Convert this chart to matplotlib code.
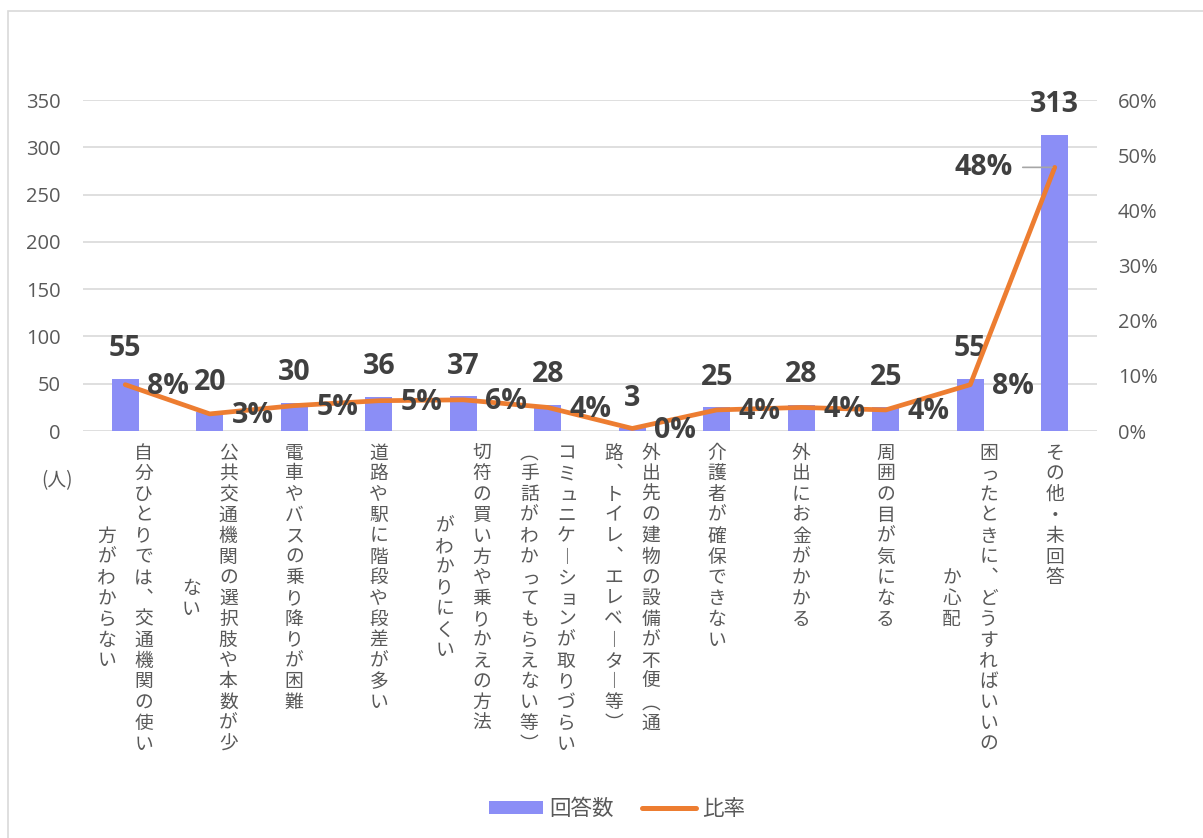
import matplotlib
matplotlib.use("Agg")
import matplotlib.pyplot as plt
from matplotlib.patches import Patch, Rectangle
from matplotlib.lines import Line2D
from matplotlib.ticker import PercentFormatter

# ---- data ----
categories = [
    ["自分ひとりでは、交通機関の使い", "方がわからない"],
    ["公共交通機関の選択肢や本数が少", "ない"],
    ["電車やバスの乗り降りが困難"],
    ["道路や駅に階段や段差が多い"],
    ["切符の買い方や乗りかえの方法", "がわかりにくい"],
    ["コミュニケーションが取りづらい", "（手話がわかってもらえない等）"],
    ["外出先の建物の設備が不便（通", "路、トイレ、エレベーター等）"],
    ["介護者が確保できない"],
    ["外出にお金がかかる"],
    ["周囲の目が気になる"],
    ["困ったときに、どうすればいいの", "か心配"],
    ["その他・未回答"],
]
counts = [55, 20, 30, 36, 37, 28, 3, 25, 28, 25, 55, 313]
ratios = [0.084, 0.031, 0.046, 0.0549, 0.0565, 0.0427, 0.0046, 0.0382,
          0.0427, 0.0382, 0.084, 0.4779]
count_ticks = [0, 50, 100, 150, 200, 250, 300, 350]
ratio_ticks = [0, 0.1, 0.2, 0.3, 0.4, 0.5, 0.6]
series_names = ["回答数", "比率"]
unit_label = "(人)"

# ---- style ----
BAR = "#8B8EF6"
LINE = "#ED7D31"
GRID = "#D9D9D9"
TICK = "#595959"
LABEL = "#404040"
CJK = ["Noto Sans CJK JP", "DejaVu Sans"]
NUM = ["Open Sans", "Noto Sans CJK JP", "DejaVu Sans"]
plt.rcParams["font.family"] = NUM

W, H, DPI = 1203, 838, 100
PX = 72.0 / DPI  # points per pixel

fig = plt.figure(figsize=(W / DPI, H / DPI), dpi=DPI)
fig.patch.set_facecolor("white")

# chart frame
fig.add_artist(Rectangle((8 / W, -0.01), 1.02, 1 - 11 / H + 0.01,
                         transform=fig.transFigure, fill=False,
                         edgecolor="#D9D9D9", linewidth=1.2))

left, right, top, bottom = 83, 1097, 100, 431
ax = fig.add_axes([left / W, 1 - bottom / H, (right - left) / W, (bottom - top) / H])
ax2 = ax.twinx()

x = list(range(len(counts)))
ax.bar(x, counts, width=0.32, color=BAR, zorder=2)
ax.set_xlim(-0.5, len(counts) - 0.5)
ax.set_ylim(count_ticks[0], count_ticks[-1])
ax.set_yticks(count_ticks)
ax.yaxis.grid(True, color=GRID, linewidth=1.2)
ax.set_axisbelow(True)
ax.set_xticks([])

ax2.plot(x, ratios, color=LINE, linewidth=3.4, solid_joinstyle="round",
         solid_capstyle="round", zorder=3)
ax2.set_ylim(ratio_ticks[0], ratio_ticks[-1])
ax2.set_yticks(ratio_ticks)
ax2.yaxis.set_major_formatter(PercentFormatter(1.0, decimals=0))

for a in (ax, ax2):
    for s in a.spines.values():
        s.set_visible(False)
    a.tick_params(axis="both", length=0, labelsize=14.5, labelcolor=TICK)
ax.tick_params(axis="y", pad=16)
ax2.tick_params(axis="y", pad=15)

LBL_SIZE = 20.5

# count labels above the bars
for i, v in enumerate(counts):
    ax.annotate(f"{v}", xy=(i, v), xytext=(0, 30 * PX), textcoords="offset points",
                ha="center", va="center", fontsize=LBL_SIZE, fontweight="bold",
                color=LABEL, zorder=5)

# ratio labels beside the line points
for i, r in enumerate(ratios):
    txt = f"{round(r * 100):d}%"
    if i == len(ratios) - 1:
        ax2.annotate(txt, xy=(i, r), xytext=(-42 * PX, 0), textcoords="offset points",
                     ha="right", va="center", fontsize=LBL_SIZE, fontweight="bold",
                     color=LABEL, zorder=5)
        ax2.annotate("", xy=(i, r), xytext=(-32 * PX, 0), textcoords="offset points",
                     xycoords="data",
                     arrowprops=dict(arrowstyle="-", color="#A6A6A6", lw=1.2,
                                     shrinkA=0, shrinkB=2))
    else:
        ax2.annotate(txt, xy=(i, r), xytext=(22 * PX, -2 * PX), textcoords="offset points",
                     ha="left", va="center", fontsize=LBL_SIZE, fontweight="bold",
                     color=LABEL, zorder=5)

# vertical (tategaki) category labels, one glyph per cell
vert = {"、": "︑", "（": "︵", "）": "︶", "ー": "︱"}
small = set("ッュョっゃゅょァィゥェォ")
pitch = 20.8
first = 22.0
colgap = 18.5
for i, cols in enumerate(categories):
    n0 = len(cols[0])
    for j, col in enumerate(cols):
        if len(cols) == 1:
            dx = 0.0
        else:
            dx = colgap if j == 0 else -colgap
        shift = (n0 - len(col)) / 2.0 * pitch
        for k, ch in enumerate(col):
            g = vert.get(ch, ch)
            ox, oy = dx, -(first + shift + k * pitch)
            if ch in small:
                ox += 2.0
            ax.annotate(g, xy=(i, 0), xycoords=("data", "axes fraction"),
                        xytext=(ox * PX, oy * PX), textcoords="offset points",
                        ha="center", va="center", fontsize=13.5, color=TICK,
                        family=CJK, annotation_clip=False)

fig.text(57 / W, 1 - 481 / H, unit_label, ha="center", va="center",
         fontsize=13.5, color=TICK, family=CJK)

# legend
handles = [Patch(facecolor=BAR, edgecolor="none"),
           Line2D([0], [0], color=LINE, linewidth=3.6, solid_capstyle="round")]
leg = fig.legend(handles, series_names, loc="center",
                 bbox_to_anchor=(617 / W, 1 - 809 / H), ncol=2, frameon=False,
                 prop={"family": CJK, "size": 15.5}, handlelength=2.5,
                 handleheight=0.6, handletextpad=0.3, columnspacing=1.3)
for t in leg.get_texts():
    t.set_color(TICK)

fig.savefig("out.png", dpi=DPI, facecolor="white")
